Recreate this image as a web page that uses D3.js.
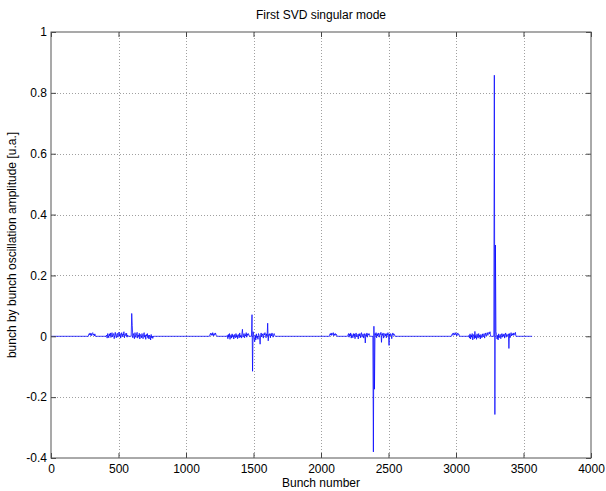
<!DOCTYPE html>
<html>
<head>
<meta charset="utf-8">
<script src="https://cdn.jsdelivr.net/npm/d3@7"></script>
<style>
  body { margin: 0; background: #fff; }
  text { font-family: Arial, "Liberation Sans", sans-serif; }
</style>
</head>
<body>
<div id="chart"></div>
<script>
const WIDTH = 606
const HEIGHT = 491

// axis ticks
const xTicks = [0, 500, 1000, 1500, 2000, 2500, 3000, 3500, 4000];
const yTicks = [-0.4, -0.2, 0, 0.2, 0.4, 0.6, 0.8, 1];
const yTickLabels = ['-0.4', '-0.2', '0', '0.2', '0.4', '0.6', '0.8', '1'];

// ring length in bunch slots, everything outside a train is 0
const lastBunch = 3564;
const bunchStep = 4;

// first bunch of every train
const trainStart = [281, 412, 598, 1178, 1306, 1489, 2067, 2200, 2388, 2970, 3096, 3284];

// amplitude of every (sampled) bunch in each train
const trainA0 = [0.008, 0.005, 0.011, 0.003, 0.009, 0.002, 0.010, 0.012, 0.004, 0.007, 0.001, 0.008];
const trainA1 = [0.004, -0.006, 0.009, 0.002, -0.005, 0.008, 0.001, 0.011, -0.004, 0.006, 0.012, -0.002, 0.005, 0.009, -0.008, 0.003, 0.013, 0.001, -0.005, 0.008, 0.010, -0.003, 0.006, 0.014, 0.000, 0.009, -0.006, 0.004, 0.012, -0.002, 0.007, 0.003, 0.015, -0.005, 0.006, 0.009, 0.001, 0.010, -0.003, 0.004];
const trainA2 = [0.075, 0.036, -0.005, 0.009, 0.003, -0.008, 0.012, 0.001, -0.004, 0.008, 0.013, -0.006, 0.004, 0.000, 0.010, -0.009, 0.006, 0.002, -0.005, 0.009, 0.001, -0.008, 0.007, 0.012, -0.003, 0.004, -0.010, 0.006, 0.001, 0.009, -0.006, 0.003, -0.009, 0.004, 0.000, -0.012, 0.006, -0.005, 0.001, -0.007];
const trainB0 = [0.006, 0.010, 0.003, 0.009, 0.004, 0.012, 0.001, 0.008, 0.009, 0.003, 0.011, 0.006, 0.004];
const trainB1 = [0.003, -0.008, 0.006, -0.003, 0.009, -0.010, 0.001, 0.005, -0.006, 0.008, -0.002, 0.003, -0.009, 0.006, 0.000, -0.005, 0.009, -0.003, 0.005, -0.008, 0.001, 0.006, -0.005, 0.011, -0.002, 0.003, -0.006, 0.008, 0.023, -0.003, 0.005, 0.009, -0.005, 0.006, 0.001, 0.012, -0.003, 0.008, 0.003, 0.009, 0.004];
const trainB2 = [0.071, -0.115, 0.015, 0.006, -0.009, -0.018, 0.003, -0.012, 0.008, -0.005, 0.001, -0.010, 0.009, 0.004, -0.003, -0.026, 0.006, 0.011, -0.002, 0.008, 0.003, -0.006, 0.009, 0.004, 0.012, 0.003, -0.005, 0.008, 0.001, 0.043, -0.015, 0.006, 0.003, 0.009, -0.005, 0.008, 0.001, 0.011, 0.004, -0.003, 0.006, 0.009, 0.003];
const trainC0 = [0.008, 0.004, 0.011, 0.003, 0.009, 0.006, 0.012, 0.001, 0.008, 0.004, 0.009, 0.003, 0.006];
const trainC1 = [0.004, 0.009, -0.003, 0.008, 0.001, 0.011, -0.006, 0.006, 0.003, -0.005, 0.009, 0.000, 0.008, -0.008, 0.004, 0.011, -0.002, 0.006, 0.003, -0.009, 0.008, 0.001, 0.009, -0.005, 0.006, 0.012, -0.003, 0.004, 0.008, -0.006, 0.003, 0.009, -0.022, 0.006, 0.001, 0.011, -0.003, 0.008, 0.004, 0.009, 0.003];
const trainC2 = [-0.380, 0.033, -0.174, 0.009, 0.003, 0.012, -0.005, 0.008, 0.001, 0.011, 0.004, -0.003, 0.009, 0.006, 0.013, -0.020, 0.008, 0.003, 0.011, -0.006, 0.006, 0.009, 0.001, 0.008, -0.005, 0.009, 0.003, 0.012, 0.004, -0.030, 0.008, 0.001, 0.009, 0.006, -0.008, 0.004, 0.011, 0.003, 0.008, 0.006];
const trainD0 = [0.006, 0.009, 0.003, 0.011, 0.008, 0.004, 0.012, 0.006, 0.009, 0.001, 0.008, 0.011, 0.004, 0.006];
const trainD1 = [0.003, -0.006, 0.008, -0.009, 0.004, -0.003, 0.009, -0.012, 0.001, 0.006, -0.008, 0.016, -0.005, 0.003, -0.010, 0.008, 0.000, -0.006, 0.009, -0.003, 0.004, -0.009, 0.006, 0.001, -0.005, 0.008, -0.002, 0.003, 0.009, -0.006, 0.004, 0.011, 0.001, 0.006, 0.012, 0.003, 0.009, 0.013, 0.008, 0.015];
const trainD2 = [0.858, -0.257, 0.300, 0.015, 0.006, -0.009, 0.003, -0.012, 0.008, -0.005, 0.001, 0.006, -0.008, 0.004, 0.009, -0.003, 0.006, 0.000, 0.008, -0.006, 0.004, 0.011, -0.003, 0.006, 0.001, 0.003, 0.008, -0.040, 0.009, -0.005, 0.006, 0.012, 0.001, 0.008, 0.004, 0.011, 0.003, 0.009, 0.006, 0.013];

const trains = [trainA0, trainA1, trainA2, trainB0, trainB1, trainB2, trainC0, trainC1, trainC2, trainD0, trainD1, trainD2];

// plot box, same place as in the matlab figure
const LEFT = 51, RIGHT = 591, TOP = 32, BOTTOM = 458;

var svg = d3.select("#chart").append("svg")
    .attr("width", WIDTH)
    .attr("height", HEIGHT)
    .style("background", "#fff");

var xScale = d3.scaleLinear()
    .domain([0, 4000])
    .range([LEFT, RIGHT]);

var yScale = d3.scaleLinear()
    .domain([-0.4, 1])
    .range([BOTTOM, TOP]);

// dotted grid
svg.append("g")
    .selectAll("line")
    .data(xTicks.slice(1, -1))
    .enter()
    .append("line")
        .attr("x1", d => Math.round(xScale(d)) + 0.5)
        .attr("x2", d => Math.round(xScale(d)) + 0.5)
        .attr("y1", TOP)
        .attr("y2", BOTTOM)
        .attr("stroke", "#a0a0a0")
        .attr("stroke-dasharray", "1,2");

svg.append("g")
    .selectAll("line")
    .data(yTicks.slice(1, -1))
    .enter()
    .append("line")
        .attr("x1", LEFT)
        .attr("x2", RIGHT)
        .attr("y1", d => Math.round(yScale(d)) + 0.5)
        .attr("y2", d => Math.round(yScale(d)) + 0.5)
        .attr("stroke", "#a0a0a0")
        .attr("stroke-dasharray", "1,2");

// build the bunch by bunch series, zero between trains
var points = [[0, 0]];
trains.forEach((values, t) => {
    let start = trainStart[t];
    points.push([start - bunchStep, 0]);
    values.forEach((v, i) => points.push([start + i * bunchStep, v]));
    points.push([start + values.length * bunchStep, 0]);
});
points.push([lastBunch, 0]);

var line = d3.line()
    .x(d => xScale(d[0]))
    .y(d => yScale(d[1]));

svg.append("path")
    .datum(points)
    .attr("fill", "none")
    .attr("stroke", "#0000ff")
    .attr("stroke-width", 0.75)
    .attr("d", line);

// axes, ticks pointing inwards like matlab
const styleAxis = g => {
    g.select(".domain").remove();
    g.selectAll(".tick line").attr("stroke", "#444");
    g.selectAll("text")
        .attr("fill", "#000")
        .attr("font-size", "12px")
        .attr("font-family", "Arial, 'Liberation Sans', sans-serif");
};

svg.append("g")
    .attr("transform", `translate(0,${BOTTOM})`)
    .call(d3.axisBottom(xScale).tickValues(xTicks).tickSizeInner(-5).tickSizeOuter(0).tickPadding(6).tickFormat(d => String(d)))
    .call(styleAxis);

svg.append("g")
    .attr("transform", `translate(0,${TOP})`)
    .call(d3.axisTop(xScale).tickValues(xTicks).tickSizeInner(-5).tickSizeOuter(0).tickFormat(""))
    .call(styleAxis);

svg.append("g")
    .attr("transform", `translate(${LEFT},0)`)
    .call(d3.axisLeft(yScale).tickValues(yTicks).tickSizeInner(-5).tickSizeOuter(0).tickPadding(4).tickFormat((d, i) => yTickLabels[i]))
    .call(styleAxis);

svg.append("g")
    .attr("transform", `translate(${RIGHT},0)`)
    .call(d3.axisRight(yScale).tickValues(yTicks).tickSizeInner(-5).tickSizeOuter(0).tickFormat(""))
    .call(styleAxis);

// box round the plot
svg.append("rect")
    .attr("x", LEFT)
    .attr("y", TOP)
    .attr("width", RIGHT - LEFT)
    .attr("height", BOTTOM - TOP)
    .attr("fill", "none")
    .attr("stroke", "#555")
    .attr("stroke-width", 1);

// labels
svg.append("text")
    .attr("x", (LEFT + RIGHT) / 2)
    .attr("y", 19)
    .attr("text-anchor", "middle")
    .attr("font-size", "12px")
    .text("First SVD singular mode");

svg.append("text")
    .attr("x", (LEFT + RIGHT) / 2)
    .attr("y", 487)
    .attr("text-anchor", "middle")
    .attr("font-size", "12px")
    .text("Bunch number");

svg.append("text")
    .attr("transform", `translate(16,${(TOP + BOTTOM) / 2}) rotate(-90)`)
    .attr("text-anchor", "middle")
    .attr("font-size", "12px")
    .text("bunch by bunch oscillation amplitude [u.a.]");
</script>
</body>
</html>
